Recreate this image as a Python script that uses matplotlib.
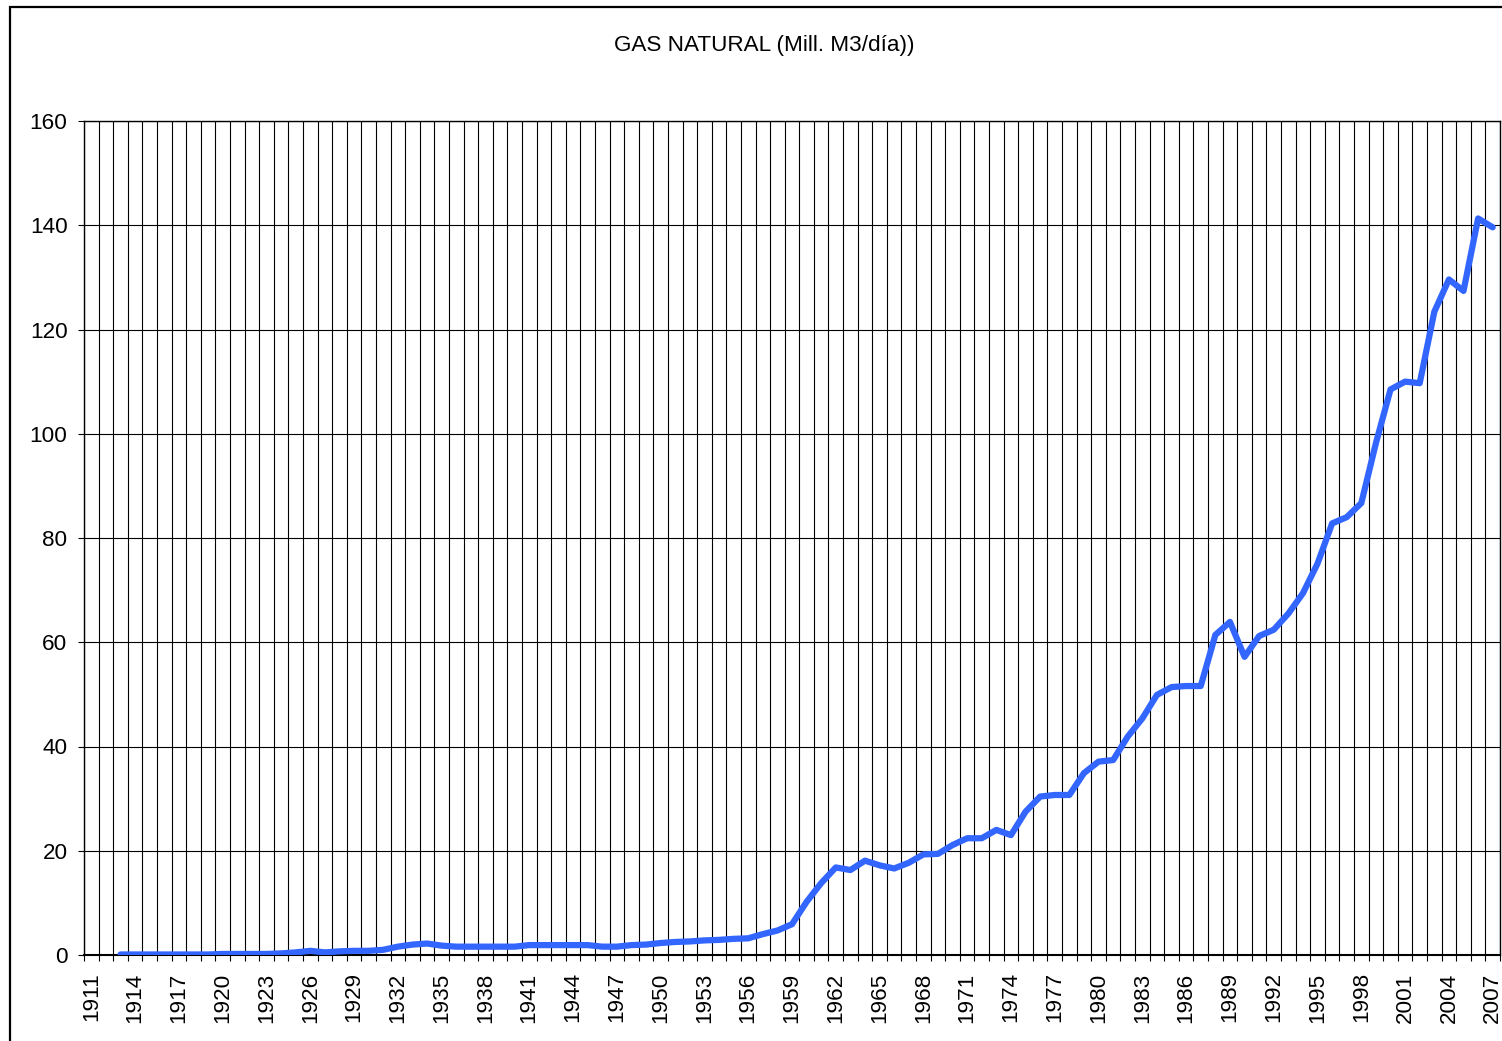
import numpy as np
import matplotlib
matplotlib.use("Agg")
import matplotlib.pyplot as plt
from matplotlib.patches import Rectangle
from matplotlib.ticker import FixedLocator

title = "GAS NATURAL (Mill. M3/día))"
years = list(range(1911, 2008))
values = [
    np.nan, np.nan, 0.1, 0.1, 0.1, 0.1, 0.1, 0.1, 0.1, 0.2,   # 1911-1920
    0.2, 0.2, 0.2, 0.3, 0.5, 0.8, 0.5, 0.7, 0.8, 0.8,          # 1921-1930
    1.0, 1.6, 2.0, 2.2, 1.8, 1.6, 1.6, 1.6, 1.6, 1.6,          # 1931-1940
    1.9, 1.9, 1.9, 1.9, 1.9, 1.6, 1.6, 1.9, 2.0, 2.3,          # 1941-1950
    2.5, 2.6, 2.8, 2.9, 3.1, 3.2, 4.0, 4.7, 5.9, 10.2,         # 1951-1960
    13.8, 16.8, 16.3, 18.1, 17.2, 16.6, 17.7, 19.3, 19.4, 21.1,  # 1961-1970
    22.4, 22.4, 24.0, 23.0, 27.5, 30.4, 30.7, 30.7, 34.9, 37.1,  # 1971-1980
    37.4, 41.9, 45.4, 49.9, 51.4, 51.6, 51.6, 61.4, 63.9, 57.2,  # 1981-1990
    61.2, 62.4, 65.5, 69.4, 75.1, 82.8, 84.0, 86.7, 98.2, 108.5,  # 1991-2000
    110.0, 109.7, 123.4, 129.6, 127.4, 141.3, 139.6,             # 2001-2007
]
y_ticks = [0, 20, 40, 60, 80, 100, 120, 140, 160]

plt.rcParams['font.family'] = ['Liberation Sans', 'DejaVu Sans']
FS = 16.2

W, H = 1502, 1041
fig = plt.figure(figsize=(W / 100, H / 100), dpi=100)
ax = fig.add_axes([84 / W, 1 - 955 / H, (1500 - 84) / W, (955 - 121) / H])

idx = np.arange(len(years))
ax.plot(idx, values, color='#3366FF', lw=4.5, solid_joinstyle='round',
        solid_capstyle='round', zorder=3)

ax.set_xlim(-0.5, len(years) - 0.5)
ax.set_ylim(0, 160)

label_idx = idx[::3]
ax.set_xticks(label_idx)
ax.set_xticklabels([str(years[i]) for i in label_idx], rotation=90,
                   fontsize=FS)
ax.xaxis.set_minor_locator(FixedLocator(np.arange(-0.5, len(years), 1.0)))
ax.tick_params(axis='x', which='major', length=0, pad=12.5)
ax.tick_params(axis='x', which='minor', length=4.3, width=0.8, color='black',
               direction='out')
ax.grid(True, axis='x', which='minor', color='black', lw=0.8)

ax.set_yticks(y_ticks)
ax.set_yticklabels([str(v) for v in y_ticks], fontsize=FS)
ax.tick_params(axis='y', which='major', length=4.3, width=0.8, pad=7.5,
               direction='out')
ax.grid(True, axis='y', which='major', color='black', lw=0.8)
ax.set_axisbelow(True)

for s in ax.spines.values():
    s.set_color('black')
    s.set_linewidth(1.0)
ax.spines['bottom'].set_linewidth(1.5)

fig.text(764 / W, 1 - 46 / H, title, ha='center', va='center', fontsize=FS)

fig.patches.append(Rectangle((9.5 / W, -0.1), 2.0, 1 - 6.5 / H + 0.1,
                             transform=fig.transFigure, fill=False,
                             ec='black', lw=1.6))

fig.savefig("out.png", dpi=100)
